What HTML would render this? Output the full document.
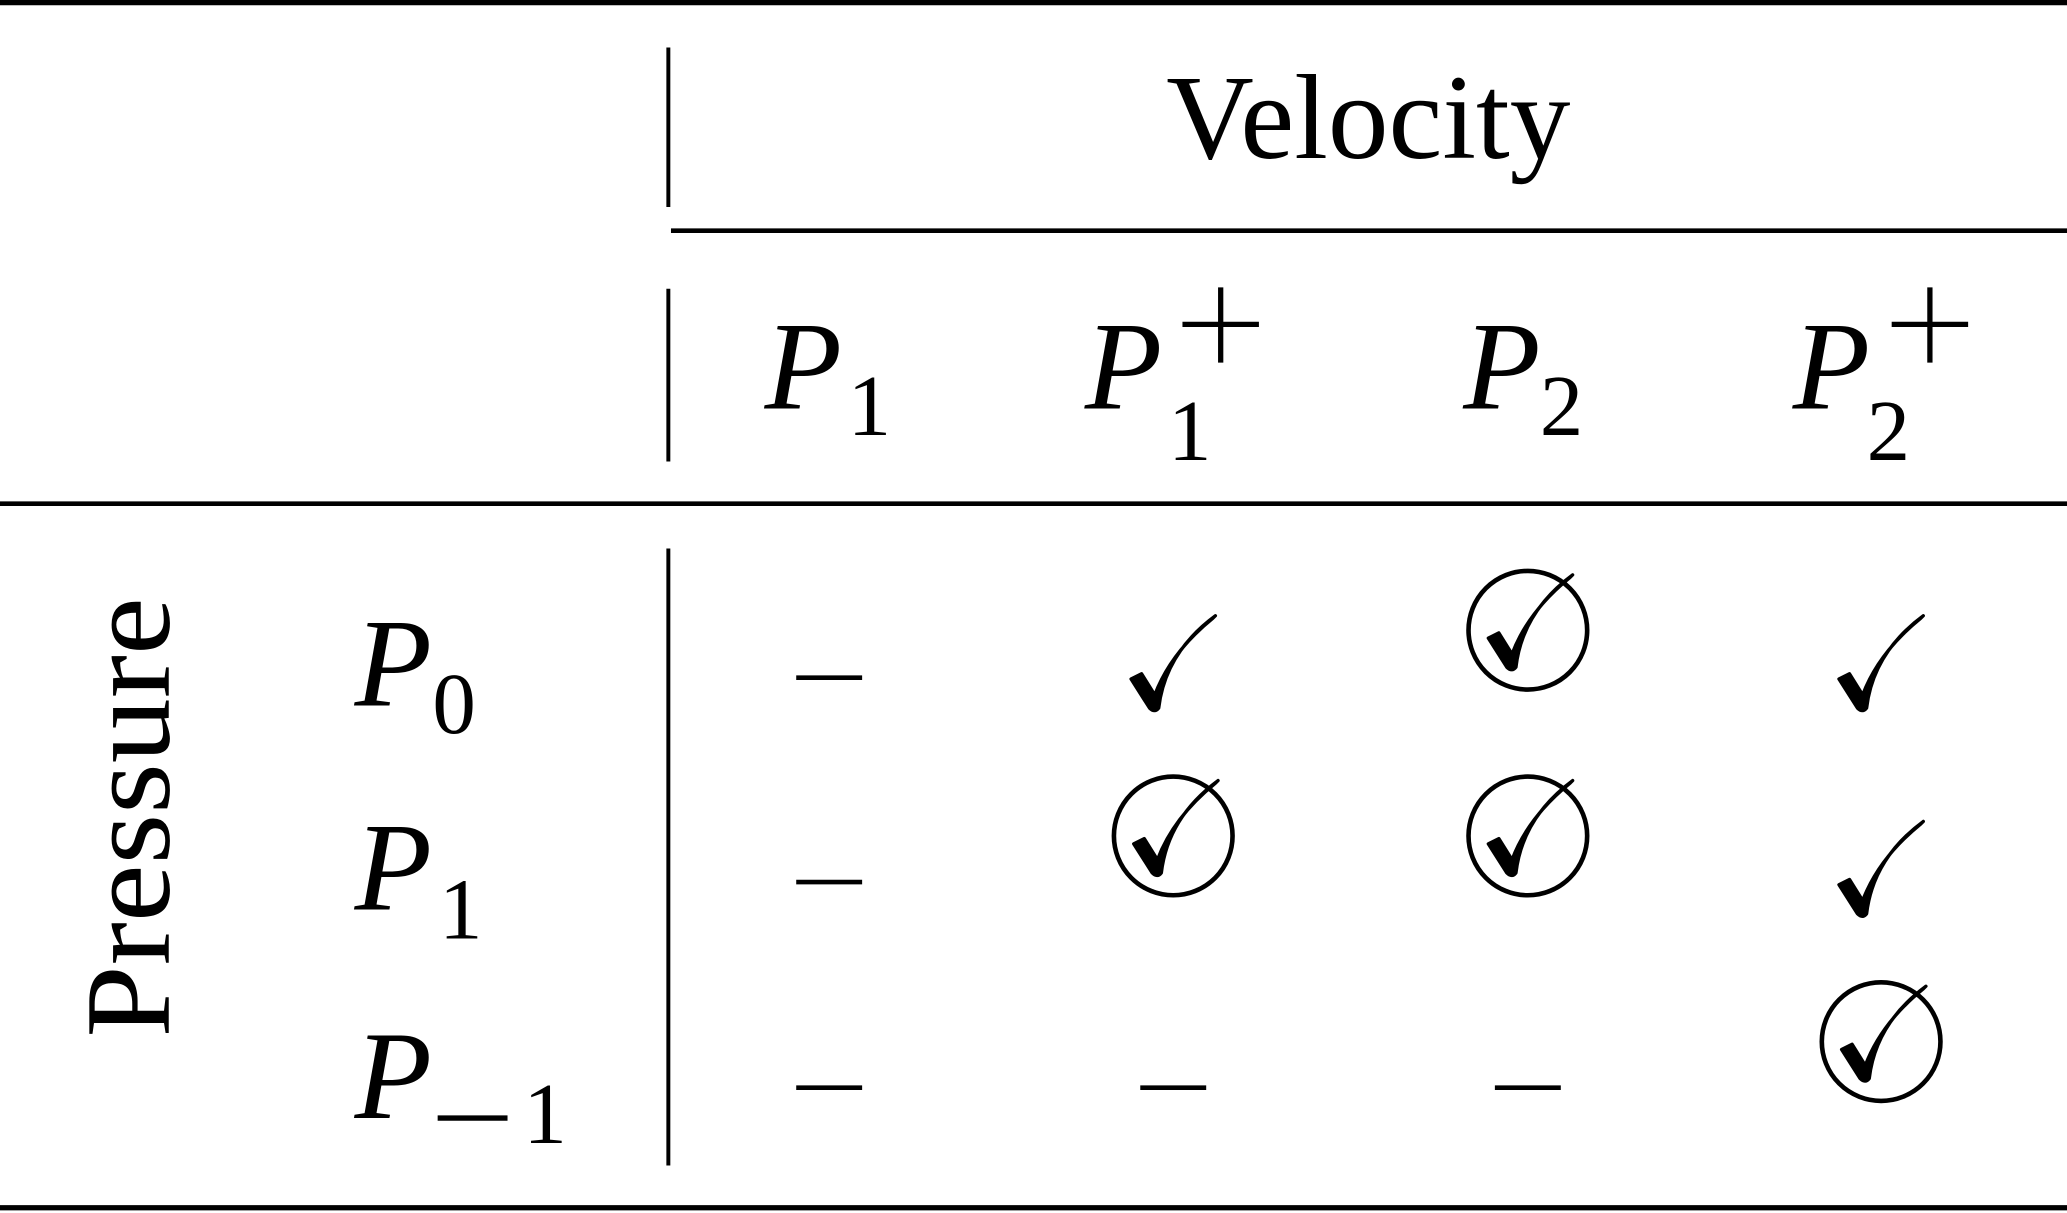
<!DOCTYPE html>
<html><head><meta charset="utf-8"><style>html,body{margin:0;padding:0;background:#fff}svg{display:block}</style></head><body>
<svg width="2067" height="1213" viewBox="0 0 1568 920" preserveAspectRatio="none" xmlns="http://www.w3.org/2000/svg">
<defs>
<path id="ckp" d="M-32,0 L-18,22 Q-14,26 -11,22 Q-6,-20 32,-48 L30,-46 Q-2,-20 -14,12 L-24,-4 Z" fill="#000" stroke="#000" stroke-width="2.5" stroke-linejoin="round"/>
<g id="ck"><use href="#ckp"/></g>
<g id="cc"><circle cx="0" cy="0" r="45" fill="none" stroke="#000" stroke-width="3.5"/><g transform="translate(2,6)"><use href="#ckp"/></g></g>
</defs>
<g stroke="#000" fill="none">
<line x1="0" y1="2" x2="1568" y2="2" stroke-width="4"/>
<line x1="507" y1="36" x2="507" y2="157" stroke-width="3"/>
<line x1="509" y1="175" x2="1568" y2="175" stroke-width="3.5"/>
<line x1="507" y1="219" x2="507" y2="350" stroke-width="3"/>
<line x1="0" y1="382" x2="1568" y2="382" stroke-width="3.5"/>
<line x1="507" y1="416" x2="507" y2="884" stroke-width="3"/>
<line x1="0" y1="916" x2="1568" y2="916" stroke-width="4"/>
<g stroke-width="3.5">
<line x1="604" y1="514" x2="654" y2="514"/>
<line x1="604" y1="669" x2="654" y2="669"/>
<line x1="604" y1="825" x2="654" y2="825"/>
<line x1="865" y1="825" x2="915" y2="825"/>
<line x1="1134" y1="825" x2="1184" y2="825"/>
</g>
</g>
<g font-family="'Liberation Serif', serif" fill="#000">
<text x="1038" y="120" font-size="92" text-anchor="middle">Velocity</text>
<text transform="translate(128,620) rotate(-90)" font-size="92" text-anchor="middle" textLength="334" lengthAdjust="spacingAndGlyphs">Pressure</text>
<g font-style="italic" font-size="96">
<text x="580" y="310">P</text><text x="823" y="310">P</text><text x="1110" y="310">P</text><text x="1360" y="310">P</text>
<text x="269" y="535">P</text><text x="269" y="690">P</text><text x="269" y="848">P</text>
</g>
<g font-size="66">
<text x="643" y="330">1</text>
<text x="886" y="349">1</text>
<text x="1168" y="330">2</text>
<text x="1416" y="349">2</text>
<text x="328" y="556">0</text>
<text x="333" y="712">1</text>
<text x="397" y="867">1</text>
</g>
<g stroke="#000" stroke-width="4">
<line x1="897" y1="246" x2="955" y2="246"/><line x1="926" y1="218" x2="926" y2="275"/>
<line x1="1435" y1="246" x2="1493" y2="246"/><line x1="1464" y1="218" x2="1464" y2="275"/>
<line x1="332" y1="848" x2="385" y2="848"/>
</g>
</g>
<use href="#ck" transform="translate(890,515)"/>
<use href="#ck" transform="translate(1427,515)"/>
<use href="#ck" transform="translate(1427,671)"/>
<use href="#cc" transform="translate(1159,478)"/>
<use href="#cc" transform="translate(890,634)"/>
<use href="#cc" transform="translate(1159,634)"/>
<use href="#cc" transform="translate(1427,790)"/>
</svg>
</body></html>
